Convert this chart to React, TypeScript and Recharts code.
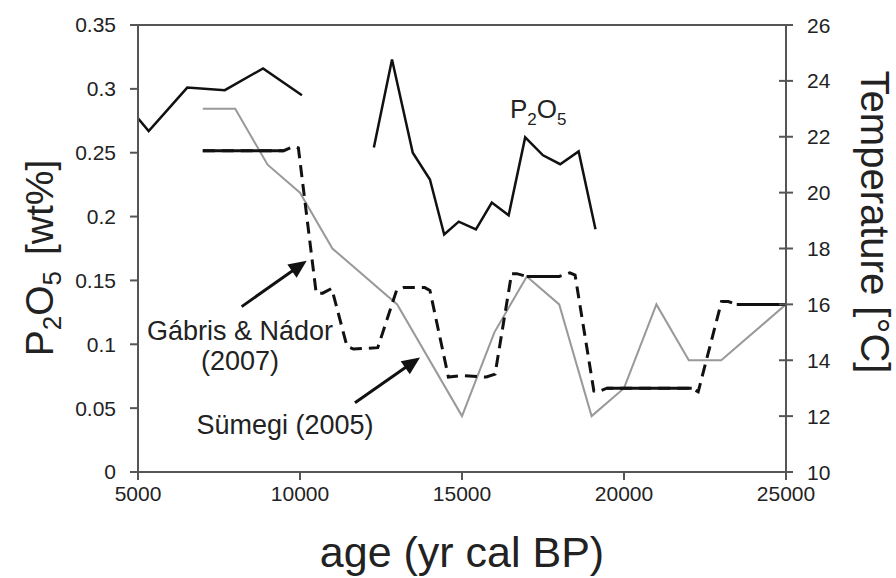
import React from "react";
import { ComposedChart, Line, XAxis, YAxis, ReferenceLine, ReferenceDot } from "recharts";

// P2O5 (wt%), two separate runs of measurements
const p2o5AgesA = [5000, 5330, 6520, 7680, 8860, 10060];
const p2o5ValuesA = [0.277, 0.267, 0.301, 0.299, 0.316, 0.295];
const p2o5AgesB = [12280, 12840, 13480, 14010, 14450, 14900, 15430, 15920, 16440, 16950, 17500, 18030, 18600, 19120];
const p2o5ValuesB = [0.254, 0.323, 0.25, 0.229, 0.186, 0.196, 0.19, 0.211, 0.201, 0.262, 0.248, 0.241, 0.251, 0.19];

// Sümegi (2005) temperature
const sumegiAges = [7000, 8000, 9000, 10000, 11000, 13000, 15000, 16000, 17000, 18000, 19000, 20000, 21000, 22000, 23000, 25000];
const sumegiTemps = [23, 23, 21, 20, 18, 16, 12, 15, 17, 16, 12, 13, 16, 14, 14, 16];

// Gábris & Nádor (2007) temperature
const gabrisAges = [7000, 9500, 9800, 9950, 10500, 10700, 10980, 11450, 11650, 12400, 12980, 13200, 13850, 14010, 14580, 14950, 15750, 16020, 16530, 16690, 17000, 18000, 18330, 18490, 19070, 19210, 19470, 22090, 22290, 23010, 23220, 23480, 25000];
const gabrisTemps = [21.5, 21.5, 21.65, 21.6, 16.4, 16.4, 16.57, 14.5, 14.4, 14.45, 16.5, 16.6, 16.6, 16.5, 13.4, 13.45, 13.4, 13.5, 17.1, 17.1, 17.0, 17.0, 17.13, 17.05, 12.9, 12.87, 13.0, 13.0, 12.87, 16.1, 16.1, 16.0, 16.0];
// flat stretches that are drawn solid in the original
const gabrisSolidRanges = [[7000, 9500], [17000, 18000], [19470, 22090], [23480, 25000]];

const ageTicks = [5000, 10000, 15000, 20000, 25000];
const p2o5Ticks = [0, 0.05, 0.1, 0.15, 0.2, 0.25, 0.3, 0.35];
const tempTicks = [10, 12, 14, 16, 18, 20, 22, 24, 26];

const p2o5DataA = p2o5AgesA.map((age, i) => ({ age, v: p2o5ValuesA[i] }));
const p2o5DataB = p2o5AgesB.map((age, i) => ({ age, v: p2o5ValuesB[i] }));
const sumegiData = sumegiAges.map((age, i) => ({ age, t: sumegiTemps[i] }));
const gabrisData = gabrisAges.map((age, i) => ({ age, t: gabrisTemps[i] }));
const gabrisSolid = gabrisAges.map((age, i) => ({
  age,
  t: gabrisSolidRanges.some(([a, b]) => age >= a && age <= b) ? gabrisTemps[i] : null,
}));

const font = "'Liberation Sans', Arial, sans-serif";
const axisColor = "#555";
const textColor = "#222";

const RightTick = (props: any) => {
  const { x, y, payload } = props;
  return (
    <g>
      <line x1={x - 7} x2={x + 7} y1={y} y2={y} stroke={axisColor} strokeWidth={2} />
      <text x={x + 21} y={y} dy="0.36em" fontSize={21} fill={textColor} fontFamily={font}>
        {payload.value}
      </text>
    </g>
  );
};

const LeftTitle = () => (
  <text
    x={0}
    y={0}
    transform="translate(53, 258) rotate(-90)"
    textAnchor="middle"
    fontSize={39}
    fill={textColor}
    fontFamily={font}
  >
    P<tspan fontSize={26} dy={8}>2</tspan>
    <tspan dy={-8}>O</tspan>
    <tspan fontSize={26} dy={8}>5</tspan>
    <tspan dy={-8} dx={16}>[wt%]</tspan>
  </text>
);

const RightTitle = () => (
  <text
    x={0}
    y={0}
    transform="translate(861, 222) rotate(90)"
    textAnchor="middle"
    fontSize={40}
    fill={textColor}
    fontFamily={font}
  >
    Temperature [°C]
  </text>
);

const Arrow = (props: any) => {
  const { x1, y1, x2, y2 } = props;
  const dx = x2 - x1;
  const dy = y2 - y1;
  const len = Math.sqrt(dx * dx + dy * dy);
  const ux = dx / len;
  const uy = dy / len;
  const head = 18;
  const half = 8;
  const bx = x2 - ux * head;
  const by = y2 - uy * head;
  return (
    <g>
      <line x1={x1} y1={y1} x2={bx + ux * 2} y2={by + uy * 2} stroke="#111" strokeWidth={3} />
      <polygon
        points={`${x2},${y2} ${bx - uy * half},${by + ux * half} ${bx + uy * half},${by - ux * half}`}
        fill="#111"
      />
    </g>
  );
};

const textShape = (lines: string[], anchor: "start" | "middle") => (props: any) => (
  <text x={props.cx} y={props.cy} textAnchor={anchor} fontSize={27} fill={textColor} fontFamily={font}>
    {lines.map((l, i) => (
      <tspan key={i} x={props.cx} dy={i === 0 ? 0 : 30}>
        {l}
      </tspan>
    ))}
  </text>
);

const P2O5Label = (props: any) => (
  <text x={props.cx} y={props.cy} fontSize={26} fill={textColor} fontFamily={font}>
    P<tspan fontSize={17} dy={7}>2</tspan>
    <tspan dy={-7}>O</tspan>
    <tspan fontSize={17} dy={7}>5</tspan>
  </text>
);

export default function App() {
  return (
    <div style={{ position: "absolute", left: 0, top: 0, width: 896, height: 578, background: "#fff" }}>
      <ComposedChart width={896} height={578} margin={{ top: 25, right: 0, bottom: 0, left: 0 }}>
        <XAxis
          type="number"
          dataKey="age"
          domain={[5000, 25000]}
          ticks={ageTicks}
          allowDataOverflow
          height={106}
          tickSize={8}
          tickMargin={6}
          axisLine={{ stroke: axisColor, strokeWidth: 2 }}
          tickLine={{ stroke: axisColor, strokeWidth: 2 }}
          tick={{ fontSize: 21, fill: textColor, fontFamily: font }}
          label={{ value: "age (yr cal BP)", position: "insideBottom", offset: 11, fontSize: 43, fill: textColor, fontFamily: font }}
        />
        <YAxis
          yAxisId="p"
          domain={[0, 0.35]}
          ticks={p2o5Ticks}
          allowDataOverflow
          width={138}
          tickSize={8}
          tickMargin={14}
          axisLine={{ stroke: axisColor, strokeWidth: 2 }}
          tickLine={{ stroke: axisColor, strokeWidth: 2 }}
          tick={{ fontSize: 21, fill: textColor, fontFamily: font }}
          label={<LeftTitle />}
        />
        <YAxis
          yAxisId="t"
          orientation="right"
          domain={[10, 26]}
          ticks={tempTicks}
          allowDataOverflow
          width={110}
          tickSize={0}
          tickMargin={0}
          tickLine={false}
          axisLine={{ stroke: axisColor, strokeWidth: 2 }}
          tick={<RightTick />}
          label={<RightTitle />}
        />
        <ReferenceLine yAxisId="t" y={26} stroke={axisColor} strokeWidth={2} />

        <Line yAxisId="t" data={sumegiData} dataKey="t" stroke="#999" strokeWidth={2} dot={false} activeDot={false} isAnimationActive={false} />
        <Line yAxisId="t" data={gabrisData} dataKey="t" stroke="#111" strokeWidth={3} strokeDasharray="12 7" dot={false} activeDot={false} isAnimationActive={false} />
        <Line yAxisId="t" data={gabrisSolid} dataKey="t" stroke="#111" strokeWidth={3} dot={false} activeDot={false} isAnimationActive={false} />
        <Line yAxisId="p" data={p2o5DataA} dataKey="v" stroke="#111" strokeWidth={2.5} dot={false} activeDot={false} isAnimationActive={false} />
        <Line yAxisId="p" data={p2o5DataB} dataKey="v" stroke="#111" strokeWidth={2.5} dot={false} activeDot={false} isAnimationActive={false} />

        <ReferenceLine yAxisId="t" segment={[{ x: 8200, y: 15.92 }, { x: 10207, y: 17.56 }]} shape={<Arrow />} />
        <ReferenceLine yAxisId="t" segment={[{ x: 11697, y: 12.48 }, { x: 13704, y: 14.1 }]} shape={<Arrow />} />
        <ReferenceDot yAxisId="t" x={16480} y={22.67} r={0} shape={<P2O5Label />} />
        <ReferenceDot yAxisId="t" x={8148} y={14.72} r={0} shape={textShape(["Gábris & Nádor", "(2007)"], "middle")} />
        <ReferenceDot yAxisId="t" x={9537} y={11.36} r={0} shape={textShape(["Sümegi (2005)"], "middle")} />
      </ComposedChart>
    </div>
  );
}
